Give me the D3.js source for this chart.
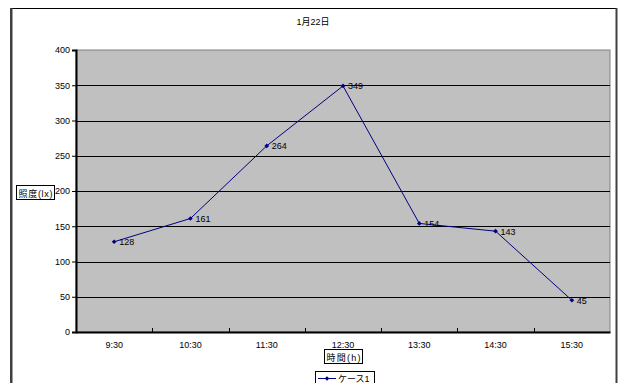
<!DOCTYPE html>
<html><head><meta charset="utf-8">
<script src="https://cdn.jsdelivr.net/npm/d3@7"></script>
<style>body{margin:0;background:#fff}svg{display:block}text{font-family:"Liberation Sans","Noto Sans CJK JP",sans-serif}</style>
</head><body><svg id="c" width="619" height="383"></svg>
<script>
const categories = ["9:30","10:30","11:30","12:30","13:30","14:30","15:30"];
const values = [128,161,264,349,154,143,45];
const yTicks = [0,50,100,150,200,250,300,350,400];
const title = "1月22日";
const yTitle = "照度(lx)";
const xTitle = "時間(h)";
const seriesName = "ケース1";

const svg = d3.select("#c");
const fontJP = '"Noto Sans CJK JP","Liberation Sans",sans-serif';
// outer frame
svg.append("line").attr("x1",10).attr("x2",617).attr("y1",8.5).attr("y2",8.5).attr("stroke","#000").attr("stroke-width",1);
svg.append("rect").attr("x",10).attr("y",8).attr("width",2.5).attr("height",375).attr("fill","#404040");
svg.append("rect").attr("x",615.5).attr("y",8).attr("width",2).attr("height",375).attr("fill","#404040");

const L=76, R=610, T=50, B=332;
const x = d3.scaleBand().domain(categories).range([L,R]);
const y = d3.scaleLinear().domain([0,400]).range([B,T]);

svg.append("rect").attr("x",L).attr("y",T).attr("width",R-L).attr("height",B-T).attr("fill","#C0C0C0").attr("stroke","#808080").attr("stroke-width",1);

// gridlines
svg.append("g").selectAll("line").data(yTicks.filter(d=>d>0&&d<400)).join("line")
  .attr("x1",L).attr("x2",R).attr("y1",d=>Math.round(y(d))+0.5).attr("y2",d=>Math.round(y(d))+0.5)
  .attr("stroke","#000").attr("stroke-width",1);

// y title box
svg.append("rect").attr("x",16.5).attr("y",185.5).attr("width",38).attr("height",14).attr("fill","#fff").attr("stroke","#000");
svg.append("text").attr("x",35.5).attr("y",196.5).attr("text-anchor","middle").attr("font-size",9).attr("textLength",34).attr("lengthAdjust","spacing").attr("font-family",fontJP).text(yTitle);

// y axis
const ya = svg.append("g").attr("transform",`translate(${L},0)`)
  .call(d3.axisLeft(y).tickValues(yTicks).tickSize(4).tickPadding(2));
ya.select(".domain").attr("stroke","#000").attr("stroke-width",2);
ya.selectAll(".tick line").attr("stroke","#000");
ya.selectAll("text").attr("font-size",9).attr("fill","#000");

// x axis
const xa = svg.append("g").attr("transform",`translate(0,${B})`)
  .call(d3.axisBottom(x).tickSize(0).tickPadding(10));
xa.select(".domain").attr("stroke","#000").attr("stroke-width",2);
xa.selectAll("text").attr("font-size",9).attr("fill","#000");
svg.append("g").selectAll("line").data(categories.slice(1)).join("line")
  .attr("x1",d=>Math.round(x(d))+0.5).attr("x2",d=>Math.round(x(d))+0.5).attr("y1",B).attr("y2",B-4)
  .attr("stroke","#000");

// line
const cx = d=>x(d)+x.bandwidth()/2;
const line = d3.line().x((d,i)=>cx(categories[i])).y(d=>y(d));
svg.append("path").datum(values).attr("d",line).attr("fill","none").attr("stroke","#000080").attr("stroke-width",1);
const diamond = d3.symbol().type(d3.symbolDiamond2).size(14);
svg.append("g").selectAll("path").data(values).join("path")
  .attr("d",diamond).attr("transform",(d,i)=>`translate(${cx(categories[i])},${y(d)})`).attr("fill","#000080");
svg.append("g").selectAll("text").data(values).join("text")
  .attr("x",(d,i)=>cx(categories[i])+5).attr("y",d=>y(d)+3.5)
  .attr("font-size",9).attr("fill","#000").text(d=>d);

// title
svg.append("text").attr("x",313).attr("y",25).attr("text-anchor","middle").attr("font-size",9).attr("font-family",fontJP).text(title);

// x title box
svg.append("rect").attr("x",324.5).attr("y",349.5).attr("width",38).attr("height",14).attr("fill","#fff").attr("stroke","#000");
svg.append("text").attr("x",343.5).attr("y",360.5).attr("text-anchor","middle").attr("font-size",9).attr("textLength",34).attr("lengthAdjust","spacing").attr("font-family",fontJP).text(xTitle);

// legend
svg.append("rect").attr("x",315.5).attr("y",371.5).attr("width",59).attr("height",14).attr("fill","#fff").attr("stroke","#000");
svg.append("line").attr("x1",318).attr("x2",336).attr("y1",378.5).attr("y2",378.5).attr("stroke","#000080");
svg.append("path").attr("d",diamond).attr("transform","translate(327,378.5)").attr("fill","#000080");
svg.append("text").attr("x",338).attr("y",382).attr("font-size",9).attr("font-family",fontJP).text(seriesName);
</script></body></html>
